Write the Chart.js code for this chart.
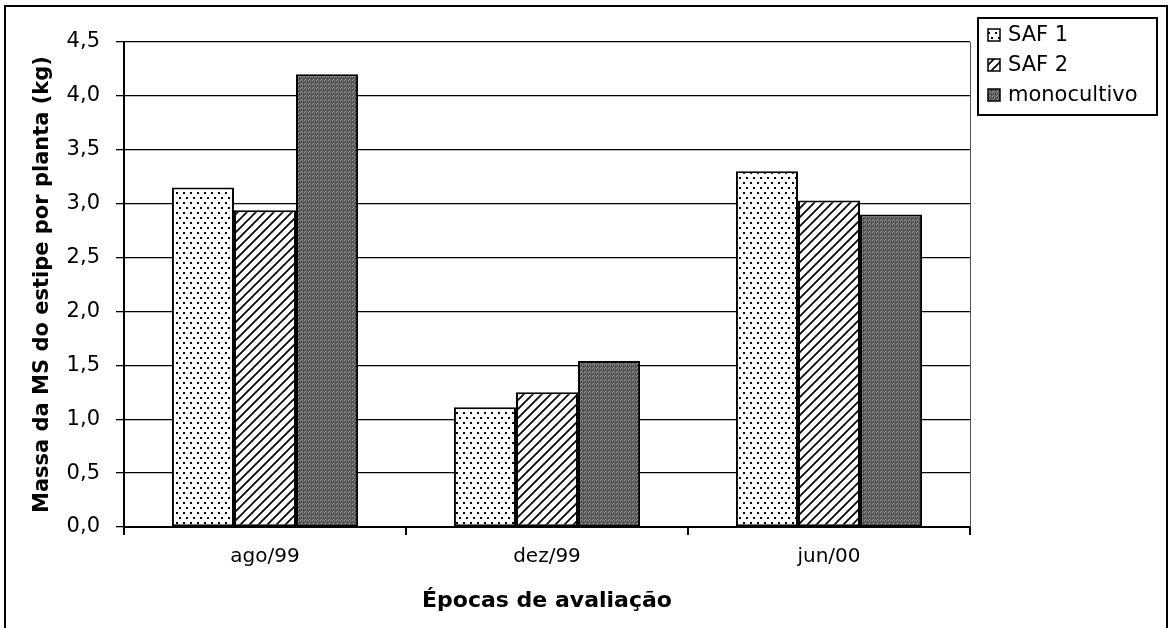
<!DOCTYPE html>
<html>
<head>
<meta charset="utf-8">
<script src="https://cdn.jsdelivr.net/npm/chart.js@4/dist/chart.umd.min.js"></script>
<style>
html, body { margin: 0; padding: 0; background: #fff; }
</style>
</head>
<body>
<canvas id="chart" width="1173" height="628"></canvas>
<script>
const epocas = ['ago/99', 'dez/99', 'jun/00']
const saf1 = [3.15, 1.11, 3.30]
const saf2 = [2.94, 1.25, 3.03]
const monocultivo = [4.20, 1.54, 2.90]
const seriesNames = ['SAF 1', 'SAF 2', 'monocultivo']
const yMin = 0, yMax = 4.5, yStep = 0.5

const FONT = 'DejaVu Sans'

// fill textures, like the old spreadsheet patterns
function tile(w, h, draw) {
    const c = document.createElement('canvas')
    c.width = w; c.height = h
    const g = c.getContext('2d')
    draw(g)
    return document.getElementById('chart').getContext('2d').createPattern(c, 'repeat')
}

const dots = tile(7, 10, g => {
    g.fillStyle = '#fff'; g.fillRect(0, 0, 7, 10)
    g.fillStyle = '#000'
    g.fillRect(1, 2, 2, 2)
    g.fillRect(4, 7, 2, 2)
})

const hatch = tile(9, 9, g => {
    g.fillStyle = '#fff'; g.fillRect(0, 0, 9, 9)
    g.strokeStyle = '#000'; g.lineWidth = 1.7
    g.beginPath()
    g.moveTo(-1, 10); g.lineTo(10, -1)
    g.moveTo(-1, 1); g.lineTo(1, -1)
    g.moveTo(8, 10); g.lineTo(10, 8)
    g.stroke()
})

const stipple = tile(4, 4, g => {
    g.fillStyle = '#5e5e5e'; g.fillRect(0, 0, 4, 4)
    g.fillStyle = '#9a9a9a'
    g.fillRect(0, 0, 1, 1); g.fillRect(2, 1, 1, 1); g.fillRect(1, 3, 1, 1)
    g.fillStyle = '#333'
    g.fillRect(3, 2, 1, 1); g.fillRect(1, 1, 1, 1)
})

const fills = [dots, hatch, stipple]

const decor = {
    id: 'decor',
    afterDraw(chart) {
        const ctx = chart.ctx
        const a = chart.chartArea
        ctx.save()
        // right edge of plot
        ctx.strokeStyle = '#555'
        ctx.lineWidth = 1
        ctx.beginPath()
        ctx.moveTo(a.right + 0.5, a.top)
        ctx.lineTo(a.right + 0.5, a.bottom)
        ctx.stroke()

        // outer frame
        ctx.strokeStyle = '#000'
        ctx.lineWidth = 2
        ctx.beginPath()
        ctx.moveTo(5, 640); ctx.lineTo(5, 6); ctx.lineTo(1167, 6); ctx.lineTo(1167, 640)
        ctx.stroke()

        // legend box
        const lx = 978, ly = 18, lw = 179, lh = 97
        ctx.fillStyle = '#fff'
        ctx.fillRect(lx, ly, lw, lh)
        ctx.strokeRect(lx, ly, lw, lh)
        ctx.font = '21px "' + FONT + '"'
        ctx.textBaseline = 'middle'
        chart.data.datasets.forEach((ds, i) => {
            const cy = ly + 17 + i * 30
            ctx.fillStyle = ds.backgroundColor
            ctx.fillRect(988, cy - 6, 12, 12)
            ctx.lineWidth = 1.5
            ctx.strokeStyle = '#000'
            ctx.strokeRect(988, cy - 6, 12, 12)
            ctx.fillStyle = '#000'
            ctx.fillText(ds.label, 1008, cy + 1)
        })
        ctx.restore()
    }
}

new Chart(document.getElementById('chart'), {
    type: 'bar',
    data: {
        labels: epocas,
        datasets: [saf1, saf2, monocultivo].map((d, i) => ({
            label: seriesNames[i],
            data: d,
            backgroundColor: fills[i],
            borderColor: '#000',
            borderWidth: 2,
            borderSkipped: false,
            categoryPercentage: 0.66,
            barPercentage: 1,
        }))
    },
    options: {
        responsive: false,
        animation: false,
        devicePixelRatio: 1,
        layout: { padding: { top: 42, right: 203, left: 0, bottom: 0 } },
        plugins: {
            legend: { display: false },
            tooltip: { enabled: false },
        },
        scales: {
            x: {
                offset: true,
                grid: { offset: true, drawOnChartArea: false, drawTicks: true, tickLength: 8, color: '#000', lineWidth: 2 },
                border: { color: '#000', width: 2 },
                ticks: { color: '#000', font: { family: FONT, size: 20 }, padding: 10 },
                title: {
                    display: true,
                    text: 'Épocas de avaliação',
                    color: '#000',
                    font: { family: FONT, size: 22, weight: 'bold' },
                    padding: { top: 0, bottom: 14 },
                },
                afterFit: s => { s.height = 101 },
            },
            y: {
                min: yMin,
                max: yMax,
                ticks: {
                    stepSize: yStep,
                    color: '#000',
                    font: { family: FONT, size: 21 },
                    padding: 16,
                    callback: v => v.toFixed(1).replace('.', ','),
                },
                grid: { color: '#000', lineWidth: 1.3, tickLength: 8 },
                border: { color: '#000', width: 2 },
                title: {
                    display: true,
                    text: 'Massa da MS do estipe por planta (kg)',
                    color: '#000',
                    font: { family: FONT, size: 21, weight: 'bold' },
                    padding: { top: 30, bottom: 0 },
                },
                afterFit: s => { s.width = 124 },
            }
        }
    },
    plugins: [decor]
});
</script>
</body>
</html>
